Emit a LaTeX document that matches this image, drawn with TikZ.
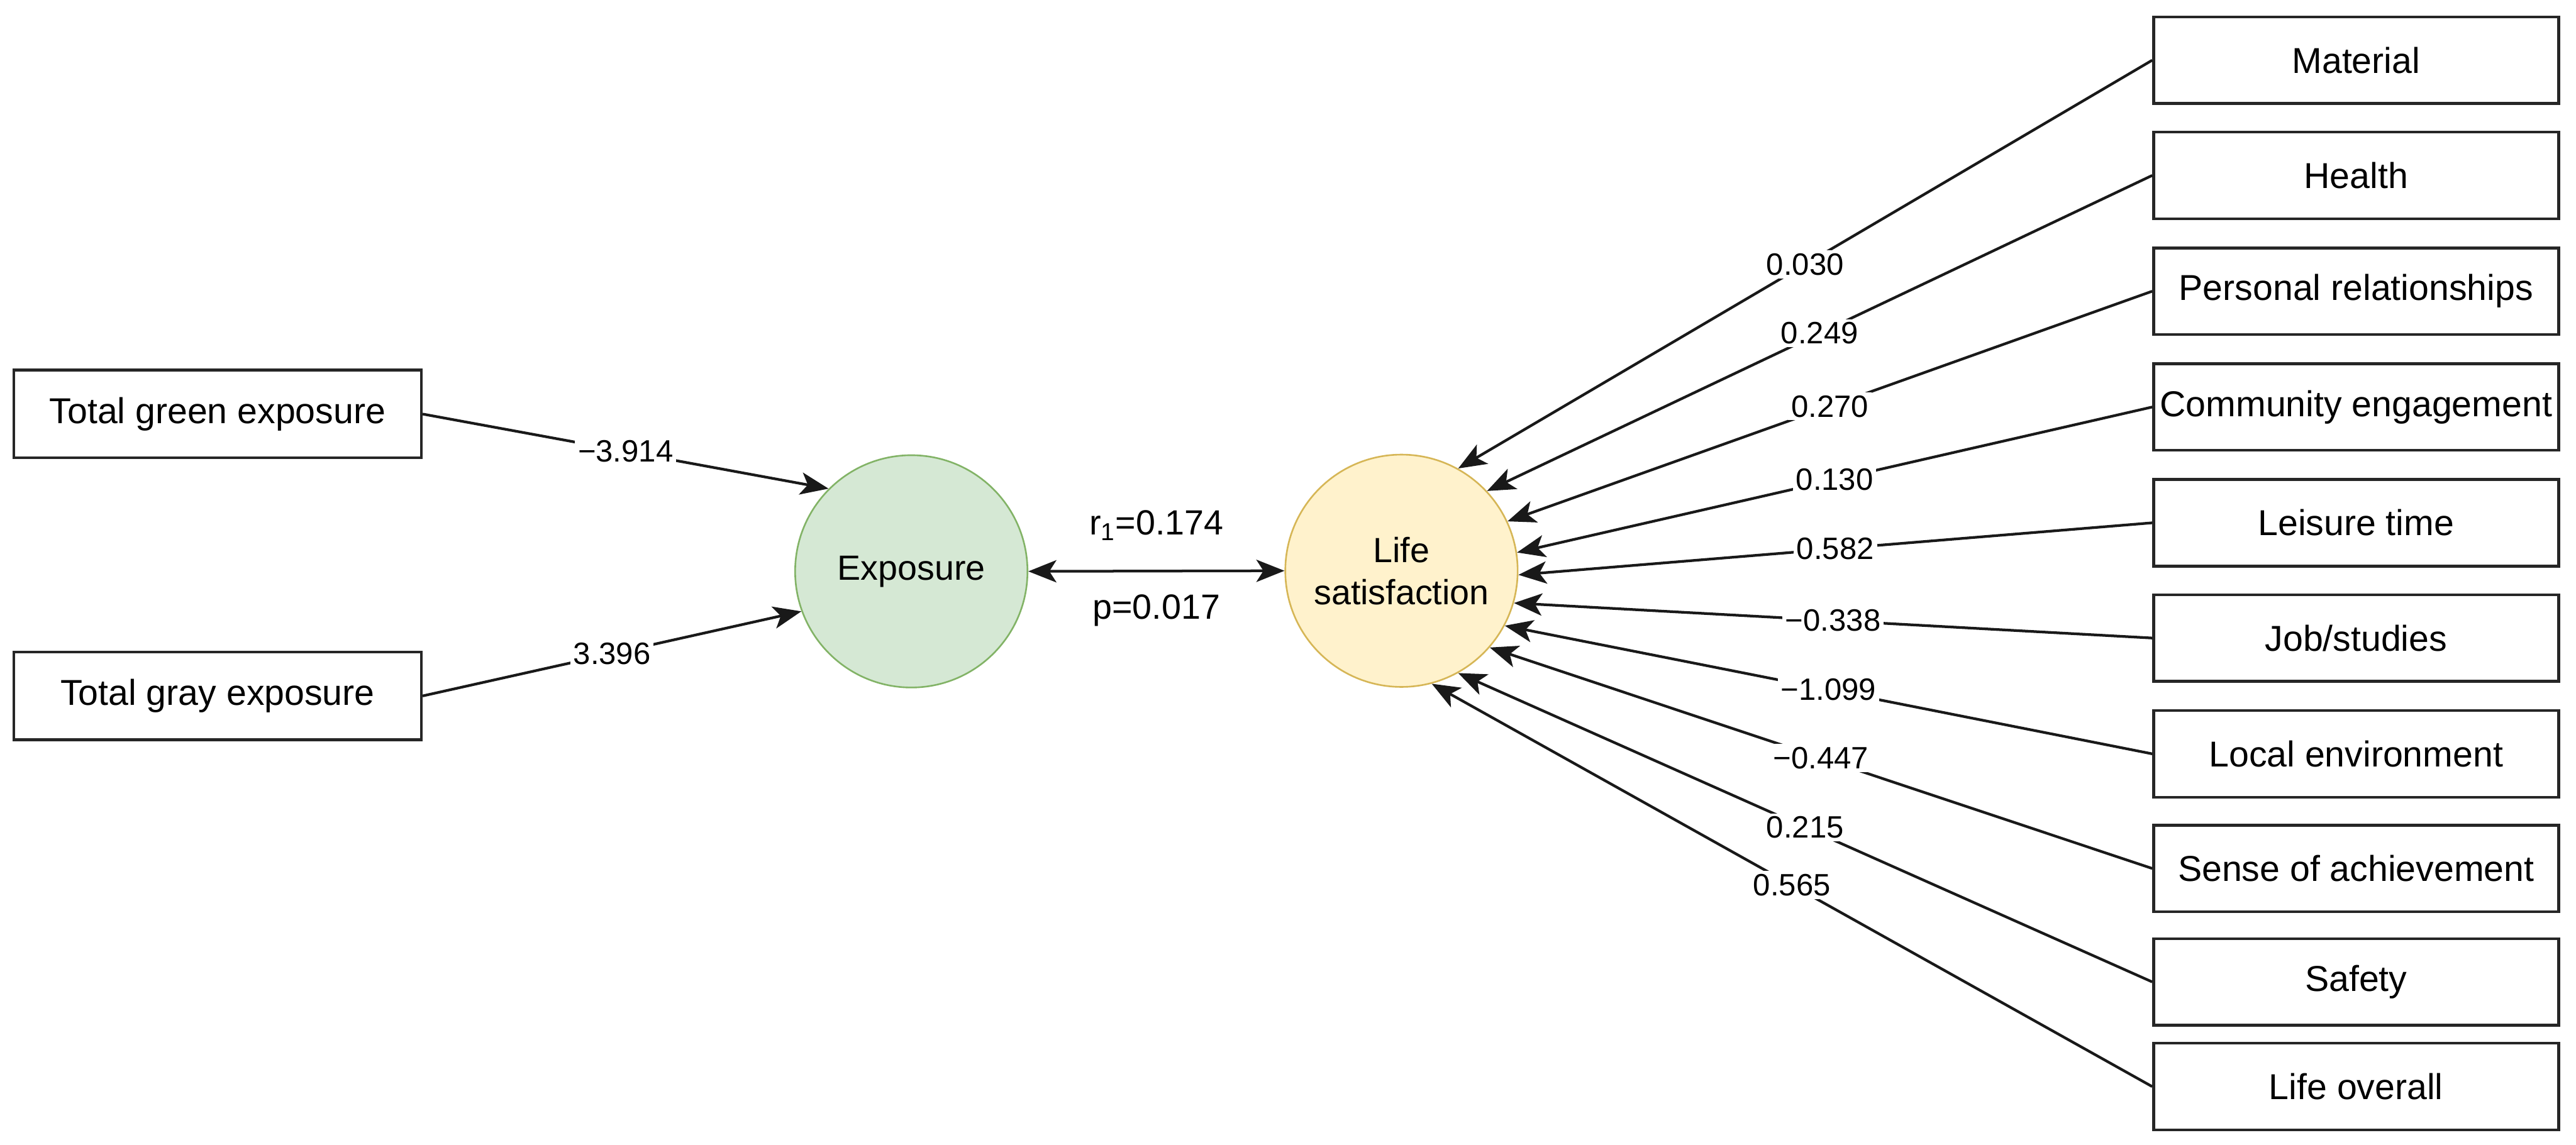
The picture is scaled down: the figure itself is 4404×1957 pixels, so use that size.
\documentclass[tikz,border=0pt]{standalone}
\usepackage{fontspec}
\setmainfont{Liberation Sans}
\usetikzlibrary{arrows.meta}
\begin{document}
\begin{tikzpicture}[x=0.01cm,y=-0.01cm,
  >={Stealth[length=0.48cm,width=0.38cm,inset=0.12cm]},
  lbox/.style={draw=black!85,line width=1.35pt,minimum width=6.96cm,minimum height=1.5cm,inner sep=0pt,font=\fontsize{17.5}{21}\selectfont},
  rbox/.style={draw=black!85,line width=1.35pt,minimum width=6.92cm,minimum height=1.48cm,inner sep=0pt,font=\fontsize{17.5}{21}\selectfont},
  latent/.style={circle,minimum size=3.97cm,line width=0.8pt,inner sep=0pt,align=center,font=\fontsize{17}{20.5}\selectfont},
  arr/.style={line width=1.3pt,draw=black!90,->},
  lbl/.style={fill=white,inner sep=1.5pt,text=black,font=\fontsize{15}{18}\selectfont},
  stat/.style={font=\fontsize{17}{20.5}\selectfont,inner sep=0pt}]
\definecolor{grfill}{HTML}{D5E8D4}
\definecolor{grline}{HTML}{82B366}
\definecolor{yefill}{HTML}{FFF2CC}
\definecolor{yeline}{HTML}{D6B656}
\useasboundingbox (0,0) rectangle (4404,1957);

% left boxes
\node[lbox] (tg) at (372,708) {Total green exposure};
\node[lbox] (ty) at (372,1190) {Total gray exposure};

% latent variables
\node[latent,draw=grline,fill=grfill] (exp) at (1558,977) {Exposure};
\node[latent,draw=yeline,fill=yefill] (ls) at (2396,976) {Life\\satisfaction};

% right boxes
\node[rbox] (m1) at (4028,103) {Material};
\node[rbox] (m2) at (4028,300) {Health};
\node[rbox] (m3) at (4028,498) {Personal relationships};
\node[rbox] (m4) at (4028,696) {Community engagement};
\node[rbox] (m5) at (4028,894) {Leisure time};
\node[rbox] (m6) at (4028,1091) {Job/studies};
\node[rbox] (m7) at (4028,1289) {Local environment};
\node[rbox] (m8) at (4028,1485) {Sense of achievement};
\node[rbox] (m9) at (4028,1679) {Safety};
\node[rbox] (m10) at (4028,1858) {Life overall};

% left arrows
\draw[arr] (tg.east) -- node[lbl] {−3.914} (exp.135);
\draw[arr] (ty.east) -- node[lbl] {3.396} (exp.200);

% correlation
\draw[line width=1.3pt,draw=black!90,<->] (exp.east) -- (ls.west)
  node[midway,stat,yshift=0.78cm] {r\textsubscript{1}=0.174}
  node[midway,stat,yshift=-0.67cm] {p=0.017};

% right arrows
\draw[arr] (m1.west) -- node[lbl] {0.030} (ls.61);
\draw[arr] (m2.west) -- node[lbl] {0.249} (ls.43);
\draw[arr] (m3.west) -- node[lbl] {0.270} (ls.25);
\draw[arr] (m4.west) -- node[lbl] {0.130} (ls.9);
\draw[arr] (m5.west) -- node[lbl] {0.582} (ls.-2);
\draw[arr] (m6.west) -- node[lbl] {−0.338} (ls.-16);
\draw[arr] (m7.west) -- node[lbl] {−1.099} (ls.-28);
\draw[arr] (m8.west) -- node[lbl] {−0.447} (ls.-41);
\draw[arr] (m9.west) -- node[lbl] {0.215} (ls.-61);
\draw[arr] (m10.west) -- node[lbl] {0.565} (ls.-75);
\end{tikzpicture}
\end{document}
